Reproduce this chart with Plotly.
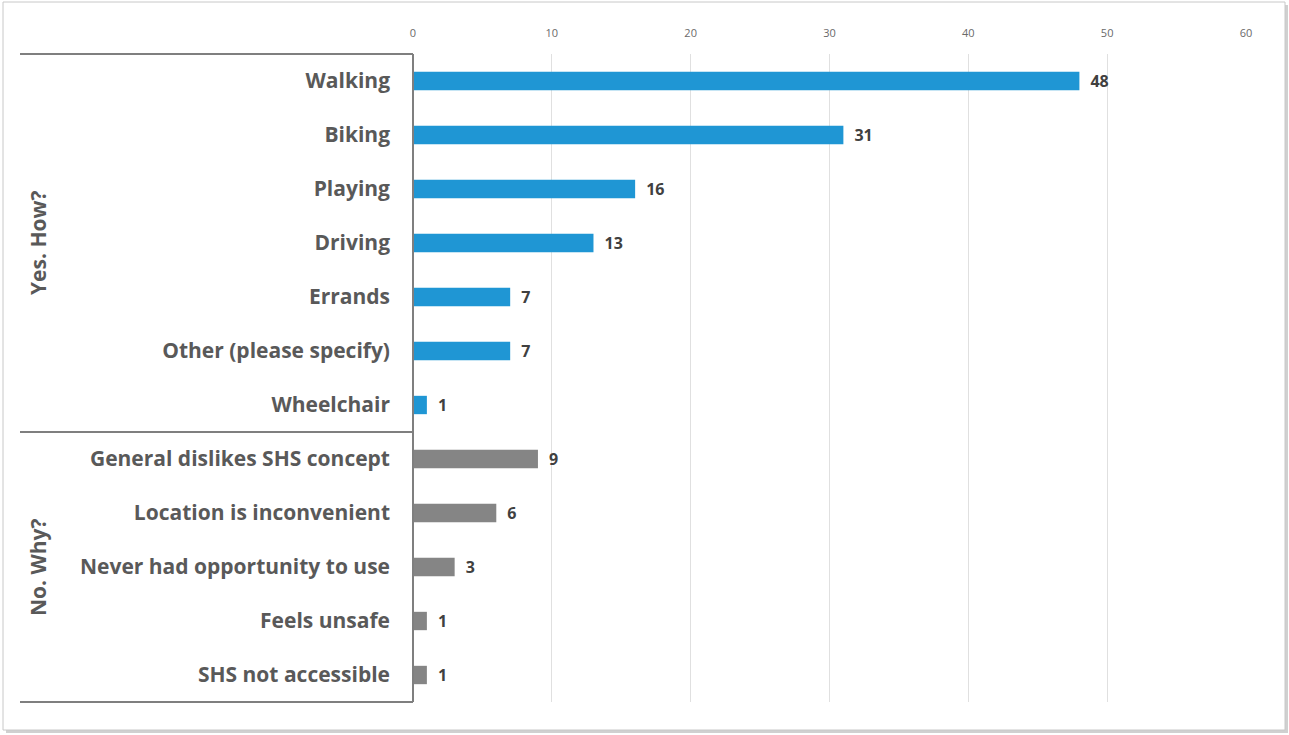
import plotly.graph_objects as go

categories = ["Walking", "Biking", "Playing", "Driving", "Errands", "Other (please specify)",
              "Wheelchair", "General dislikes SHS concept", "Location is inconvenient",
              "Never had opportunity to use", "Feels unsafe", "SHS not accessible"]
values = [48, 31, 16, 13, 7, 7, 1, 9, 6, 3, 1, 1]
groups = ["Yes. How?"] * 7 + ["No. Why?"] * 5
tick_vals = [0, 10, 20, 30, 40, 50, 60]

group_colors = {"Yes. How?": "#1f96d4", "No. Why?": "#858585"}

W, H = 1289, 735
L, R, T, B = 413, 1246, 54, 702

fig = go.Figure()
fig.add_trace(go.Bar(
    y=categories, x=values, orientation="h",
    marker=dict(color=[group_colors[g] for g in groups], line=dict(width=0)),
    width=0.34,
    text=["\u2002" + str(v) for v in values], textposition="outside",
    constraintext="none",
    textfont=dict(family="Open Sans", size=16, color="#404040", weight="bold"),
    cliponaxis=False,
))

def px(x):
    return (x - L) / (R - L)

def py(y):
    return (B - y) / (B - T)

shapes = []
# shadow + outer frame
shapes.append(dict(type="rect", xref="paper", yref="paper", x0=px(6), x1=px(1288), y0=py(733), y1=py(5),
                   line=dict(width=0), fillcolor="rgba(120,120,120,0.35)", layer="below"))
shapes.append(dict(type="rect", xref="paper", yref="paper", x0=px(3), x1=px(1285), y0=py(730), y1=py(2),
                   line=dict(width=1, color="#c8c8c8"), fillcolor="white", layer="below"))
# bracket lines
for yy in [T, 432, B]:
    shapes.append(dict(type="line", xref="paper", yref="paper", x0=px(20), x1=0, y0=py(yy), y1=py(yy),
                       line=dict(color="#7f7f7f", width=2)))
shapes.append(dict(type="line", xref="paper", yref="paper", x0=0, x1=0, y0=0, y1=1,
                   line=dict(color="#7f7f7f", width=2)))

annotations = []
group_spans = {"Yes. How?": (T, 432), "No. Why?": (432, B)}
for g, (a, b) in group_spans.items():
    annotations.append(dict(text=g, xref="paper", yref="paper", x=px(38), y=py((a + b) / 2),
                            showarrow=False, textangle=-90, xanchor="center", yanchor="middle",
                            font=dict(family="Open Sans", size=21, color="#595959", weight="bold")))

fig.update_layout(
    width=W, height=H,
    margin=dict(l=L, r=W - R, t=T, b=H - B),
    paper_bgcolor="white", plot_bgcolor="rgba(0,0,0,0)",
    showlegend=False,
    bargap=0.66,
    shapes=shapes, annotations=annotations,
    xaxis=dict(side="top", range=[0, 60], tickvals=tick_vals, showgrid=True, gridcolor="#e0e0e0",
               gridwidth=1, zeroline=False, showline=False, ticks="",
               tickfont=dict(family="Open Sans", size=11, color="#6a6a6a"), ticklabelstandoff=14),
    yaxis=dict(autorange="reversed", showgrid=False, zeroline=False, showline=False, ticks="",
               tickfont=dict(family="Open Sans", size=21, color="#595959", weight="bold"),
               ticklabelstandoff=22),
)

fig.write_html("out.html")
